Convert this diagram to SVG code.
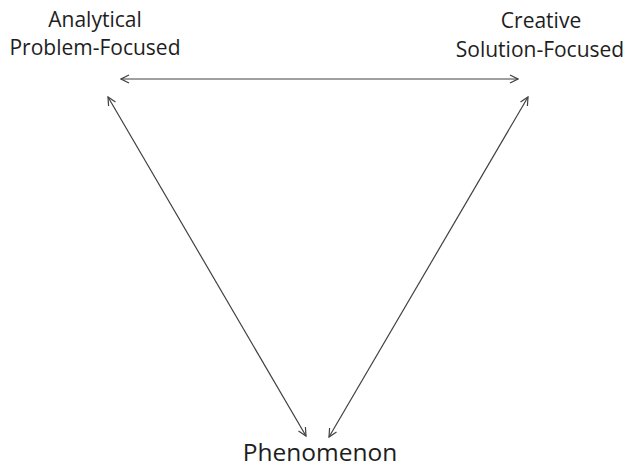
<svg xmlns="http://www.w3.org/2000/svg" width="629" height="468" viewBox="0 0 629 468">
<style>
text{font-family:"Open Sans","Liberation Sans",sans-serif;fill:#1e1e1e;text-anchor:middle}
.s{font-size:21px}
.l{font-size:24.5px}
.c{stroke:#404040;stroke-width:1.2;fill:none;marker-start:url(#a);marker-end:url(#a)}
</style>
<defs>
<marker id="a" viewBox="0 0 10 10" refX="9" refY="5" markerWidth="10" markerHeight="10" markerUnits="userSpaceOnUse" orient="auto-start-reverse">
<path d="M1,1 L9,5 L1,9" fill="none" stroke="#404040" stroke-width="1.2"/>
</marker>
</defs>
<g id="analytical"><text class="s" x="95" y="27">Analytical</text><text class="s" x="95" y="55">Problem-Focused</text></g>
<g id="creative"><text class="s" x="541" y="28">Creative</text><text class="s" x="540" y="57">Solution-Focused</text></g>
<g id="phenomenon"><text class="l" x="320" y="461">Phenomenon</text></g>
<g id="connectors">
<line class="c" x1="121" y1="79" x2="518" y2="79"/>
<line class="c" x1="108" y1="97" x2="306" y2="436"/>
<line class="c" x1="528" y1="97" x2="329" y2="437"/>
</g>
</svg>
